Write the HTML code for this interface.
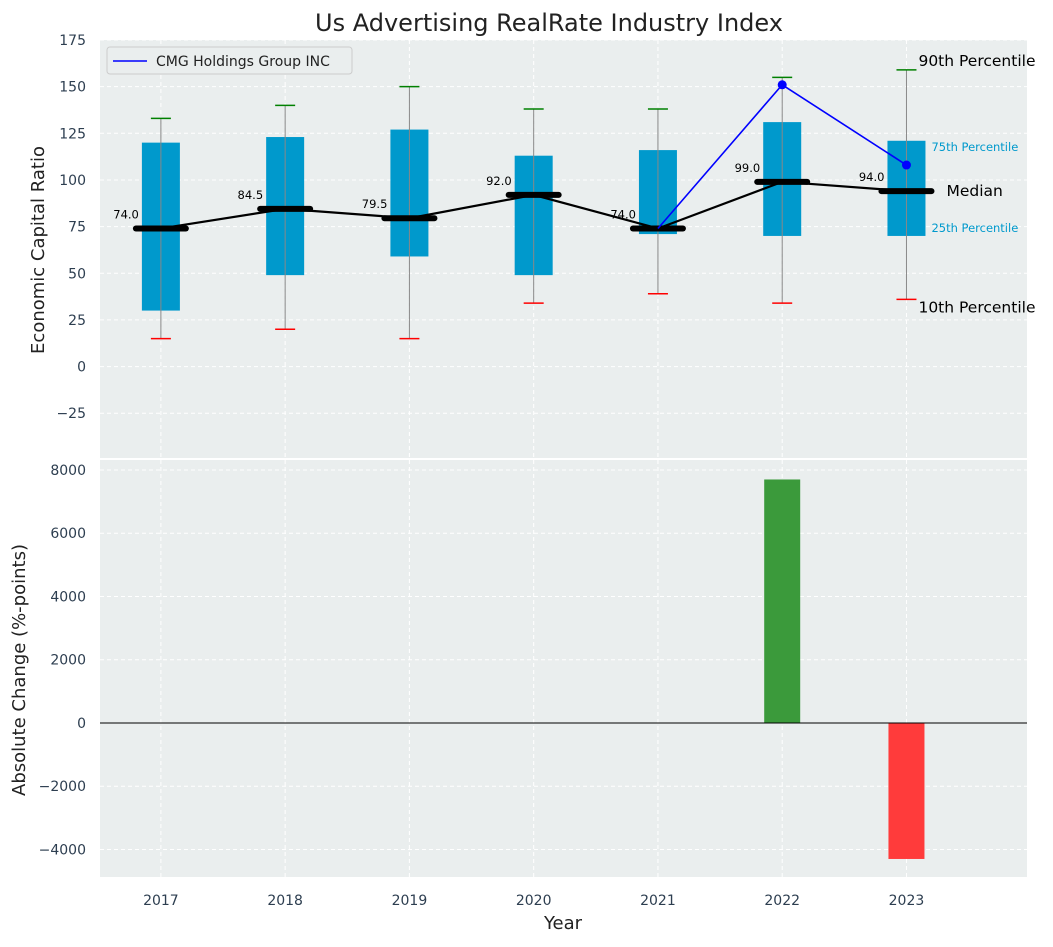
<!DOCTYPE html>
<html><head><meta charset="utf-8"><style>
body{margin:0;background:#fff;font-family:"Liberation Sans","DejaVu Sans",sans-serif;}
svg text{font-family:"DejaVu Sans","Liberation Sans",sans-serif;}
</style></head><body>
<svg id="c" width="1053" height="942"></svg>
<script>
const years=[2017,2018,2019,2020,2021,2022,2023];
const p10=[15,20,15,34,39,34,36];
const q1=[30,49,59,49,71,70,70];
const med=[74,84.5,79.5,92,74,99,94];
const q3=[120,123,127,113,116,131,121];
const p90=[133,140,150,138,138,155,159];
const cmgYears=[2021,2022,2023];
const cmgVals=[74,151,108];
const chgYears=[2022,2023];
const chgVals=[7700,-4300];
const topTicks=[-25,0,25,50,75,100,125,150,175];
const botTicks=[-4000,-2000,0,2000,4000,6000,8000];

const NS="http://www.w3.org/2000/svg";
const svg=document.getElementById('c');
function el(t,a,p){const e=document.createElementNS(NS,t);for(const k in a)e.setAttribute(k,a[k]);(p||svg).appendChild(e);return e;}
const X0=100,X1=1027;
const x=v=>X0+(v-2016.51)/(2023.97-2016.51)*(X1-X0);
const T0=40,T1=458;const yt=v=>T1-(v+49)/(175+49)*(T1-T0);
const B0=460,B1=877;const yb=v=>B1-(v+4870)/(8316+4870)*(B1-B0);

let g=el('rect',{x:X0,y:T0,width:X1-X0,height:T1-T0,fill:'#eaeeee'});

g=el('rect',{x:X0,y:B0,width:X1-X0,height:B1-B0,fill:'#eaeeee'});


years.forEach(yr=>{
 el('line',{x1:x(yr),x2:x(yr),y1:T0,y2:T1,stroke:'#fff','stroke-dasharray':'4,3','stroke-width':1});
 el('line',{x1:x(yr),x2:x(yr),y1:B0,y2:B1,stroke:'#fff','stroke-dasharray':'4,3','stroke-width':1});
 const t=el('text',{x:x(yr),y:905,'text-anchor':'middle','font-size':14,fill:'#2d3e50'});t.textContent=yr;
 
});
topTicks.forEach(v=>{
 el('line',{x1:X0,x2:X1,y1:yt(v),y2:yt(v),stroke:'#fff','stroke-dasharray':'4,3'});
 const t=el('text',{x:86,y:yt(v)+5,'text-anchor':'end','font-size':14,fill:'#2d3e50'});t.textContent=v<0?'\u2212'+(-v):v;
 
});
botTicks.forEach(v=>{
 el('line',{x1:X0,x2:X1,y1:yb(v),y2:yb(v),stroke:'#fff','stroke-dasharray':'4,3'});
 const t=el('text',{x:86,y:yb(v)+5,'text-anchor':'end','font-size':14,fill:'#2d3e50'});t.textContent=v<0?'\u2212'+(-v):v;
 
});
el('line',{x1:X0,x2:X1,y1:459,y2:459,stroke:'#fff','stroke-width':2});

years.forEach((yr,i)=>{
 const cx=x(yr);
 const b=el('rect',{x:cx-19,y:yt(q3[i]),width:38,height:yt(q1[i])-yt(q3[i]),fill:'#0099cc'});
 
 el('line',{x1:cx,x2:cx,y1:yt(p10[i]),y2:yt(p90[i]),stroke:'#888','stroke-width':1});
 el('line',{x1:cx-10,x2:cx+10,y1:yt(p90[i]),y2:yt(p90[i]),stroke:'green','stroke-width':1.5});
 el('line',{x1:cx-10,x2:cx+10,y1:yt(p10[i]),y2:yt(p10[i]),stroke:'red','stroke-width':1.5});
});
let pts=years.map((yr,i)=>x(yr)+','+yt(med[i])).join(' ');
g=el('polyline',{points:pts,fill:'none',stroke:'#000','stroke-width':2.2});

years.forEach((yr,i)=>{
 const cx=x(yr);
 const m=el('line',{x1:cx-25,x2:cx+25,y1:yt(med[i]),y2:yt(med[i]),stroke:'#000','stroke-width':6,'stroke-linecap':'round'});
 
 const t=el('text',{x:cx-22,y:yt(med[i])-10,'text-anchor':'end','font-size':11.5,fill:'#000'});t.textContent=med[i].toFixed(1);
 
});
pts=cmgYears.map((yr,i)=>x(yr)+','+yt(cmgVals[i])).join(' ');
g=el('polyline',{points:pts,fill:'none',stroke:'blue','stroke-width':1.6});

cmgYears.forEach((yr,i)=>{
 if(i==0)return;
 const c=el('circle',{cx:x(yr),cy:yt(cmgVals[i]),r:4.5,fill:'blue'});
 
});
const L=x(2023);
[['90th Percentile',L+12,yt(p90[6])-4,15.5,'#000'],['75th Percentile',L+25,yt(q3[6])+10,11.5,'#0099cc'],['Median',L+40,yt(med[6])+5,15.5,'#000'],['25th Percentile',L+25,yt(q1[6])-4,11.5,'#0099cc'],['10th Percentile',L+12,yt(p10[6])+13,15.5,'#000']].forEach(a=>{
 const t=el('text',{x:a[1],y:a[2],'font-size':a[3],fill:a[4]});t.textContent=a[0];
 
});
g=el('rect',{x:107,y:47,width:245,height:27,rx:3,fill:'#eaeeee',stroke:'#ccc'});

el('line',{x1:113,x2:147,y1:61,y2:61,stroke:'blue','stroke-width':1.6});
g=el('text',{x:156,y:66,'font-size':14,fill:'#222'});g.textContent='CMG Holdings Group INC';


chgYears.forEach((yr,i)=>{
 const v=chgVals[i];
 const r=el('rect',{x:x(yr)-18,y:Math.min(yb(v),yb(0)),width:36,height:Math.abs(yb(v)-yb(0)),fill:v>=0?'#3b9a3b':'#ff3b3b'});
 
});
el('line',{x1:X0,x2:X1,y1:yb(0),y2:yb(0),stroke:'#000','stroke-width':1});

g=el('text',{x:549,y:31,'text-anchor':'middle','font-size':24,fill:'#222'});g.textContent='Us Advertising RealRate Industry Index';

g=el('text',{x:44,y:250,'text-anchor':'middle','font-size':18,fill:'#222',transform:'rotate(-90 44 250)'});g.textContent='Economic Capital Ratio';

g=el('text',{x:25,y:670,'text-anchor':'middle','font-size':18,fill:'#222',transform:'rotate(-90 25 670)'});g.textContent='Absolute Change (%-points)';

g=el('text',{x:563,y:929,'text-anchor':'middle','font-size':18,fill:'#222'});g.textContent='Year';

</script>
</body></html>
